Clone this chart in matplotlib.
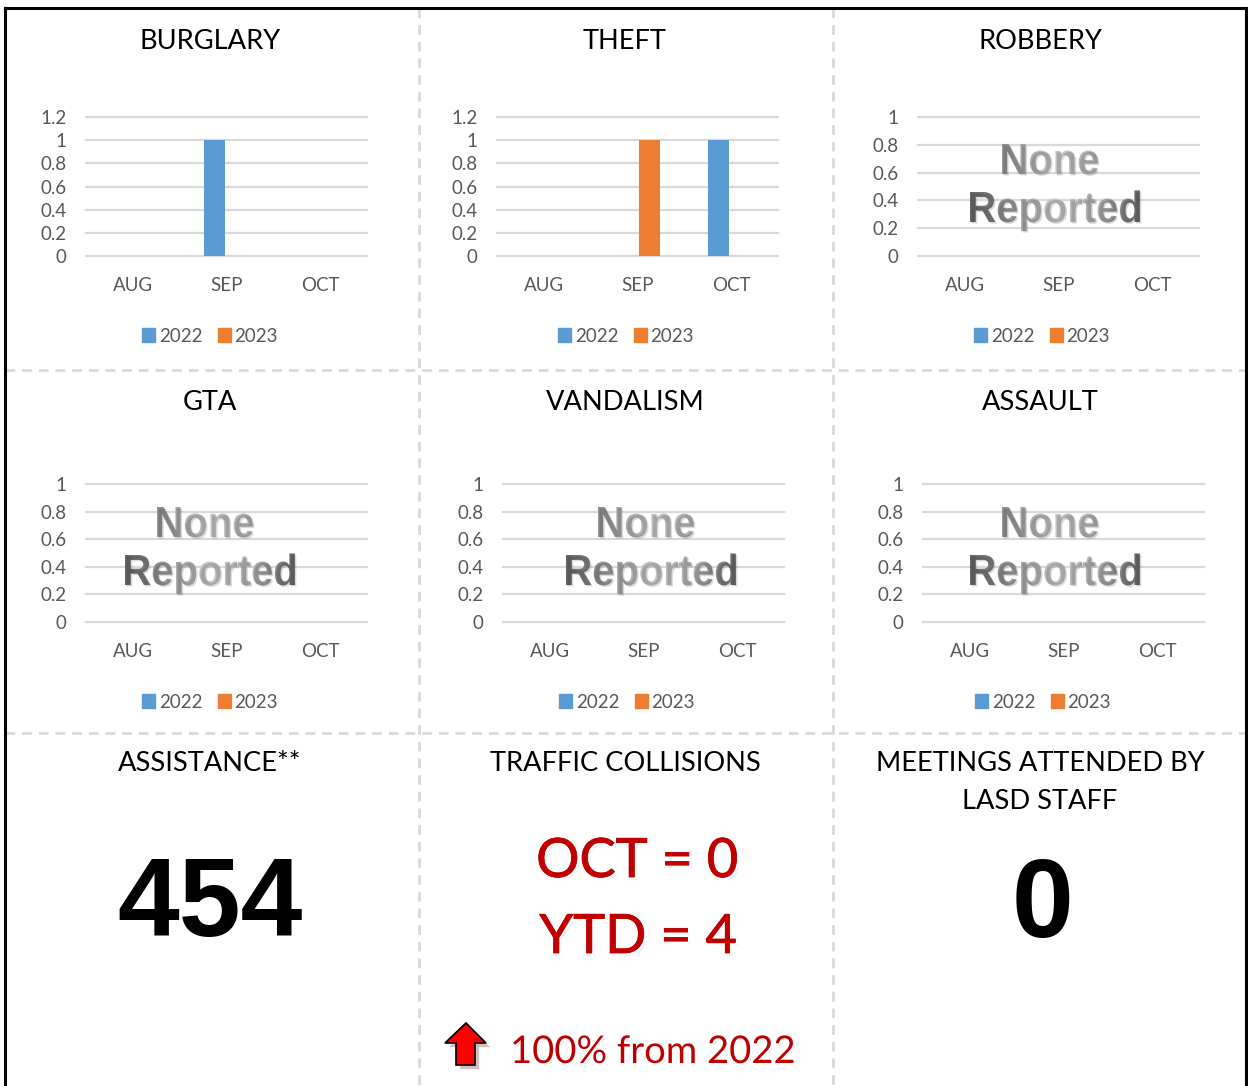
import numpy as np
import matplotlib
matplotlib.use('Agg')
import matplotlib.pyplot as plt
import matplotlib.patheffects as pe
from matplotlib.patches import PathPatch, Polygon, Patch
from matplotlib.textpath import TextPath
from matplotlib.font_manager import FontProperties
from matplotlib.colors import LinearSegmentedColormap
from matplotlib.transforms import Affine2D

# Monthly counts per crime type
months = ['AUG', 'SEP', 'OCT']
years = ['2022', '2023']
burglary_2022 = [0, 1, 0]
burglary_2023 = [0, 0, 0]
theft_2022 = [0, 0, 1]
theft_2023 = [0, 1, 0]
robbery_2022 = [0, 0, 0]
robbery_2023 = [0, 0, 0]
gta_2022 = [0, 0, 0]
gta_2023 = [0, 0, 0]
vandalism_2022 = [0, 0, 0]
vandalism_2023 = [0, 0, 0]
assault_2022 = [0, 0, 0]
assault_2023 = [0, 0, 0]

# Summary numbers
assistance_total = 454
collisions_month = 'OCT'
collisions_oct = 0
collisions_ytd = 4
collisions_change_pct = 100
collisions_base_year = 2022
meetings_attended = 0

W, H = 1248, 1086
BLUE = '#5b9bd5'
ORANGE = '#ed7d31'
GRID = '#d9d9d9'
LABEL = '#595959'
RED = '#c00000'

plt.rcParams['font.family'] = ['Lato', 'DejaVu Sans']

fig = plt.figure(figsize=(W / 100, H / 100), dpi=100)
fig.patch.set_facecolor('white')

# overlay in pixel coordinates (y grows downward) for borders, arrow, text art
ov = fig.add_axes([0, 0, 1, 1], zorder=10)
ov.set_autoscale_on(False)
ov.set_xlim(0, W)
ov.set_ylim(H, 0)
ov.axis('off')
ov.patch.set_alpha(0)


def fy(y):
    return 1 - y / H


def gradient_words(lines, cx, baselines, width_px, cap_px, offsets):
    fp = FontProperties(family='Liberation Sans', weight='bold')
    cap = TextPath((0, 0), 'H', size=100, prop=fp).get_extents().height
    ref = TextPath((0, 0), lines[-1], size=100, prop=fp).get_extents()
    sx = width_px / ref.width
    sy = cap_px / cap
    cmap = LinearSegmentedColormap.from_list(
        'grey_sheen', ['#636363', '#9a9a9a', '#c6c6c6', '#b0b0b0', '#646464'])
    grad = np.linspace(0, 1, 256).reshape(1, -1)
    x0, x1 = cx - width_px / 2 - 2, cx + width_px / 2 + 2
    for word, base, dx in zip(lines, baselines, offsets):
        tp = TextPath((0, 0), word, size=100, prop=fp)
        bb = tp.get_extents()
        tr = (Affine2D().translate(-bb.x0 - bb.width / 2, 0)
              .scale(sx, -sy).translate(cx + dx, base))
        path = tr.transform_path(tp)
        shadow = Affine2D().translate(1.5, 1.5).transform_path(path)
        ov.add_patch(PathPatch(shadow, fc='black', ec='none', alpha=0.15))
        clip = PathPatch(path, fc='none', ec='none')
        ov.add_patch(clip)
        im = ov.imshow(grad, extent=(x0, x1, base + 12, base - cap_px - 4),
                       cmap=cmap, aspect='auto', interpolation='bilinear')
        im.set_clip_path(clip)


def crime_panel(title, s22, s23, left, top, bottom, title_cx, title_base,
                leg_cx, leg_y, ymax, none_cx, none_base):
    ax = fig.add_axes([left / W, fy(bottom), 281 / W, (bottom - top) / H])
    ax.set_facecolor('none')
    x = np.arange(len(months))
    ax.bar(x - 0.133, s22, 0.224, color=BLUE, zorder=3)
    ax.bar(x + 0.133, s23, 0.224, color=ORANGE, zorder=3)
    ax.set_xlim(-0.5, 2.5)
    ax.set_ylim(0, ymax)
    ticks = np.round(np.arange(0, ymax + 0.01, 0.2), 1)
    ax.set_yticks(ticks)
    ax.set_yticklabels(['%g' % t for t in ticks])
    ax.set_xticks(x)
    ax.set_xticklabels(months)
    ax.grid(axis='y', color=GRID, lw=1.6)
    for gl in ax.get_ygridlines():
        gl.set_clip_on(False)
    ax.set_axisbelow(True)
    for s in ax.spines.values():
        s.set_visible(False)
    ax.tick_params(axis='y', length=0, pad=14, labelsize=13.5, labelcolor=LABEL)
    ax.tick_params(axis='x', length=0, pad=15, labelsize=13.5, labelcolor=LABEL)
    handles = [Patch(color=BLUE), Patch(color=ORANGE)]
    ax.legend(handles, years, loc='center', bbox_to_anchor=(leg_cx / W, fy(leg_y)),
              bbox_transform=fig.transFigure, ncol=2, frameon=False,
              handlelength=0.7, handleheight=0.7, handletextpad=0.2,
              columnspacing=0.8, fontsize=13.5, labelcolor=LABEL)
    fig.text(title_cx / W, fy(title_base), title, ha='center', va='baseline',
             fontsize=19.6, color='black')
    if sum(s22) + sum(s23) == 0:
        gradient_words(['None', 'Reported'], none_cx, none_base, 170, 30, [-5, 0])


crime_panel('BURGLARY', burglary_2022, burglary_2023, 86, 117, 256, 210, 49,
            210, 336, 1.2, 210, [174, 222])
crime_panel('THEFT', theft_2022, theft_2023, 497, 117, 256, 625, 49,
            626, 336, 1.2, 651, [174, 222])
crime_panel('ROBBERY', robbery_2022, robbery_2023, 918, 117, 256, 1040, 49,
            1042, 336, 1.0, 1055, [174, 222])
crime_panel('GTA', gta_2022, gta_2023, 86, 484, 622, 210, 410,
            210, 702, 1.0, 210, [537, 585])
crime_panel('VANDALISM', vandalism_2022, vandalism_2023, 503, 484, 622, 625, 410,
            627, 702, 1.0, 651, [537, 585])
crime_panel('ASSAULT', assault_2022, assault_2023, 923, 484, 622, 1040, 410,
            1043, 702, 1.0, 1055, [537, 585])

# bottom row: summary tiles
fig.text(210 / W, fy(771), 'ASSISTANCE**', ha='center', va='baseline', fontsize=19.6)
fig.text(625 / W, fy(771), 'TRAFFIC COLLISIONS', ha='center', va='baseline', fontsize=19.6)
fig.text(1040 / W, fy(771), 'MEETINGS ATTENDED BY', ha='center', va='baseline', fontsize=19.6)
fig.text(1040 / W, fy(809), 'LASD STAFF', ha='center', va='baseline', fontsize=19.6)

big = dict(ha='center', va='baseline', fontsize=80, fontweight='bold',
           family='Liberation Sans', color='black')
fig.text(210 / W, fy(936), f'{assistance_total}', **big)
fig.text(1043 / W, fy(937), f'{meetings_attended}', **big)

glow_big = [pe.SimplePatchShadow(offset=(2, -2), shadow_rgbFace='#909090', alpha=0.25),
            pe.Stroke(linewidth=4.5, foreground='white'),
            pe.Stroke(linewidth=0.6, foreground=RED), pe.Normal()]
glow_small = [pe.SimplePatchShadow(offset=(1.5, -1.5), shadow_rgbFace='#909090', alpha=0.25),
              pe.Stroke(linewidth=3.5, foreground='white'), pe.Normal()]
fig.text(637 / W, fy(877), f'{collisions_month} = {collisions_oct}', ha='center',
         va='baseline', fontsize=39, color=RED, path_effects=glow_big)
fig.text(638 / W, fy(953), f'YTD = {collisions_ytd}', ha='center',
         va='baseline', fontsize=39, color=RED, path_effects=glow_big)
fig.text(510 / W, fy(1063), f'{collisions_change_pct}% from {collisions_base_year}',
         ha='left', va='baseline', fontsize=27.5, color=RED, path_effects=glow_small)

arrow = Polygon([(445, 1043), (466, 1023), (486, 1043), (475, 1043),
                 (475, 1065), (456, 1065), (456, 1043)], closed=True,
                fc='#ff0000', ec='black', lw=1.2,
                path_effects=[pe.SimplePatchShadow(offset=(3, -3), alpha=0.25),
                              pe.Normal()])
ov.add_patch(arrow)

# dashed tile dividers and outer frame
dash = dict(color=GRID, lw=2, ls=(0, (3.5, 2.5)), clip_on=False, zorder=0)
for xv in (419, 833):
    ov.plot([xv, xv], [8, H], **dash)
for yv in (370, 733):
    ov.plot([5, 1246], [yv, yv], **dash)
frame = dict(color='black', lw=2.2, clip_on=False, solid_capstyle='projecting')
ov.plot([5, 5], [8, H], **frame)
ov.plot([5, 1246], [8, 8], **frame)
ov.plot([1246, 1246], [8, H], **frame)

fig.savefig('out.png', dpi=100)
